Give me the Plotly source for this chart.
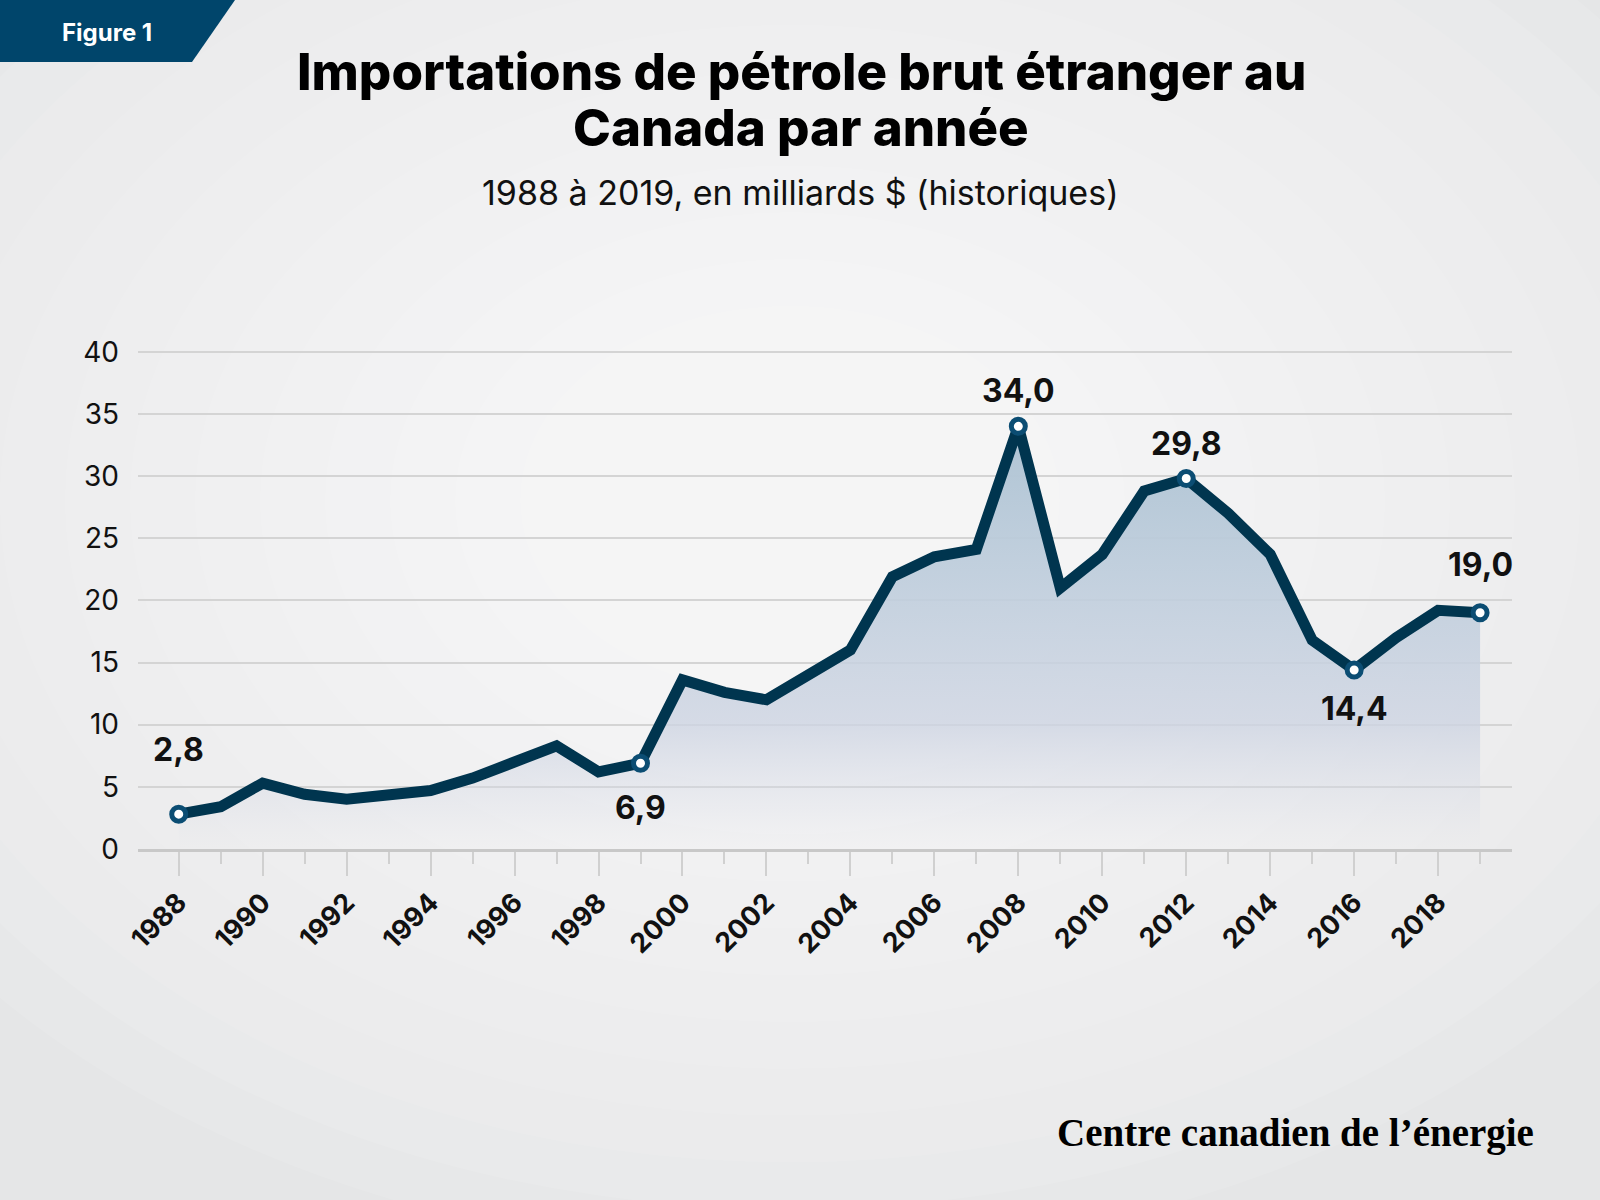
import plotly.graph_objects as go

# Importations de pétrole brut étranger, milliards $ (historiques)
years = list(range(1988, 2020))
imports = [
    2.8, 3.4, 5.3, 4.4, 4.0, 4.4, 4.7, 5.7, 7.1, 8.3,
    6.2, 6.9, 13.6, 12.6, 12.0, 13.9, 16.0, 21.9, 23.5, 24.1,
    34.0, 21.0, 23.7, 28.8, 29.8, 27.0, 23.7, 16.8, 14.4, 17.0,
    19.2, 19.0,
]
labelled_years = [1988, 1999, 2008, 2012, 2016, 2019]
label_shift = [65, -44, 36, 35, -39, 48]

x_ticks = list(range(1988, 2019, 2))
y_ticks = list(range(0, 41, 5))

NAVY = "#00354f"
BADGE = "#00456b"
RING = "#0b4d73"

W, H = 1600, 1200
L, R, T, B = 138, 88, 348, 351
PW, PH = W - L - R, H - T - B


def px(x):
    return (x - L) / PW


def py(y):
    return (H - B - y) / PH


fig = go.Figure()

fig.add_trace(
    go.Scatter(
        x=years,
        y=imports,
        mode="lines",
        line=dict(color=NAVY, width=11),
        fill="tozeroy",
        fillgradient=dict(
            type="vertical",
            start=0,
            stop=34,
            colorscale=[
                [0.0, "rgba(222,224,232,0)"],
                [0.09, "rgba(215,219,230,0.25)"],
                [0.3, "rgba(205,212,226,0.8)"],
                [0.65, "rgba(190,205,220,0.92)"],
                [1.0, "rgba(175,196,212,1)"],
            ],
        ),
        hoverinfo="skip",
    )
)

lab_vals = [imports[years.index(y)] for y in labelled_years]
fig.add_trace(
    go.Scatter(
        x=labelled_years,
        y=lab_vals,
        mode="markers",
        marker=dict(size=14, color="white", line=dict(color=RING, width=5)),
        hoverinfo="skip",
    )
)

for yr, v, s in zip(labelled_years, lab_vals, label_shift):
    fig.add_annotation(
        x=yr, y=v, xref="x", yref="y",
        text=f"{v:.1f}".replace(".", ","),
        showarrow=False, yshift=s, xanchor="center", yanchor="middle",
        font=dict(family="Inter", size=32, color="#111111", weight=700),
    )

# soft radial background glow
shapes = []
for i in range(14):
    rx = 1050 - i * 65
    ry = rx * 0.72
    cx, cy = 790, 500
    shapes.append(dict(
        type="circle", xref="paper", yref="paper", layer="below",
        x0=px(cx - rx), x1=px(cx + rx), y0=py(cy + ry), y1=py(cy - ry),
        fillcolor="rgba(255,255,255,0.09)", line=dict(width=0),
    ))

# "Figure 1" badge
shapes.append(dict(
    type="path", xref="paper", yref="paper", layer="above",
    path=f"M {px(0)},{py(0)} L {px(235)},{py(0)} L {px(192)},{py(62)} L {px(0)},{py(62)} Z",
    fillcolor=BADGE, line=dict(width=0),
))


def paper_text(x, y, text, font, xanchor="center"):
    fig.add_annotation(
        x=px(x), y=py(y), xref="paper", yref="paper", showarrow=False,
        xanchor=xanchor, yanchor="middle", text=text, font=font,
    )


paper_text(107, 32, "Figure 1",
           dict(family="Inter", size=24, color="white", weight=700))
paper_text(801, 71, "Importations de pétrole brut étranger au",
           dict(family="Inter", size=51, color="#000000", weight=800))
paper_text(801, 128, "Canada par année",
           dict(family="Inter", size=51, color="#000000", weight=800))
paper_text(800, 192, "1988 à 2019, en milliards $ (historiques)",
           dict(family="Inter", size=34, color="#111111"))
paper_text(1536, 1133, "Centre canadien de l’énergie",
           dict(family="Liberation Serif", size=39, color="#000000", weight=700),
           xanchor="right")

fig.update_layout(
    width=W, height=H,
    margin=dict(l=L, r=R, t=T, b=B),
    paper_bgcolor="#e5e6e7",
    plot_bgcolor="rgba(0,0,0,0)",
    showlegend=False,
    shapes=shapes,
    xaxis=dict(
        range=[1987.03, 2019.76],
        tickvals=x_ticks,
        tickangle=-45,
        ticks="outside", ticklen=24, tickwidth=2, tickcolor="#d0d0d0",
        minor=dict(dtick=1, tick0=1988, ticks="outside", ticklen=12,
                   tickwidth=2, tickcolor="#d0d0d0"),
        showgrid=False, zeroline=False,
        showline=True, linecolor="#c8c8c8", linewidth=3,
        tickfont=dict(family="Inter", size=27, color="#111111", weight=700),
    ),
    yaxis=dict(
        range=[0, 40.3],
        tickvals=y_ticks,
        showgrid=True, gridcolor="#d4d4d4", gridwidth=1.5,
        zeroline=False, showline=False, ticks="",
        ticklabelstandoff=18,
        tickfont=dict(family="Inter", size=28, color="#111111"),
    ),
)

fig.write_html(
    "out.html",
    config={"displayModeBar": False},
    post_script="document.body.style.margin='0';",
)
